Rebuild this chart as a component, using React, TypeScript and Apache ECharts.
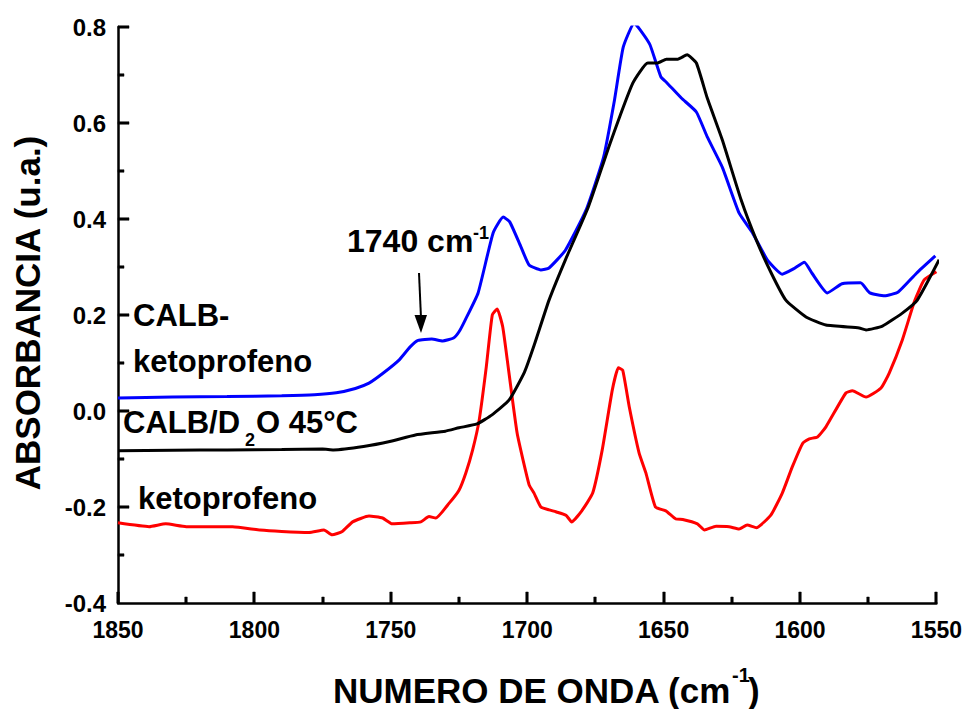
import React, { useEffect, useRef } from "react";
import * as echarts from "echarts";

// Wavenumber (cm-1) / absorbance pairs
const calbKetoprofeno: [number, number][] = [
  [1850, 0.027], [1830, 0.029], [1810, 0.03], [1790, 0.032], [1778, 0.034],
  [1770, 0.038], [1763, 0.047], [1758, 0.058], [1753, 0.078], [1747, 0.106], [1743, 0.133],
  [1740, 0.147], [1735, 0.15], [1731, 0.146], [1727, 0.152], [1725, 0.165],
  [1722.7, 0.19], [1718, 0.246], [1712.5, 0.371], [1708.8, 0.404], [1706.4, 0.394],
  [1702.3, 0.342], [1699.3, 0.304], [1695, 0.294], [1692, 0.298], [1686, 0.335],
  [1678.4, 0.419], [1672, 0.529], [1668, 0.648], [1664.8, 0.758], [1660.8, 0.808],
  [1658.6, 0.794], [1655, 0.763], [1651, 0.696], [1649, 0.685], [1643.5, 0.652],
  [1638, 0.623], [1634, 0.571], [1628.5, 0.508], [1622.3, 0.412], [1617.4, 0.371],
  [1612, 0.315], [1606.5, 0.285], [1602.4, 0.296], [1598.4, 0.31], [1595.6, 0.287],
  [1590, 0.246], [1584.6, 0.265], [1577.8, 0.267], [1574.4, 0.246], [1569, 0.24],
  [1564, 0.248], [1557.3, 0.287], [1550.4, 0.323],
];

const calbD2O: [number, number][] = [
  [1850, -0.083], [1830, -0.082], [1810, -0.081], [1790, -0.08], [1775, -0.079],
  [1771, -0.081], [1760, -0.074], [1750, -0.063], [1741, -0.05], [1730, -0.042],
  [1725, -0.035], [1718.4, -0.027], [1712.9, -0.008], [1706.6, 0.023], [1701, 0.081],
  [1697.4, 0.138], [1692, 0.231], [1686, 0.315], [1677.6, 0.425], [1669.6, 0.558],
  [1661.3, 0.683], [1655.8, 0.725], [1652.3, 0.725], [1649, 0.733], [1644.8, 0.733],
  [1641.4, 0.742], [1638, 0.725], [1634, 0.652], [1628.5, 0.565], [1621.6, 0.44],
  [1616, 0.356], [1610.6, 0.288], [1605.2, 0.231], [1597.8, 0.196], [1590.5, 0.179],
  [1578.3, 0.173], [1575.8, 0.169], [1569.8, 0.177], [1562.5, 0.204], [1557, 0.231],
  [1549, 0.315],
];

const ketoprofeno: [number, number][] = [
  [1850, -0.233], [1838.6, -0.241], [1832.5, -0.235], [1825, -0.241], [1808, -0.241],
  [1798, -0.248], [1790, -0.251], [1780, -0.253], [1774.5, -0.248], [1771.5, -0.258],
  [1767.8, -0.251], [1764, -0.231], [1758, -0.219], [1753, -0.223], [1749.5, -0.235],
  [1743, -0.233], [1739, -0.231], [1736, -0.22], [1733.5, -0.223], [1728.6, -0.192],
  [1725, -0.165], [1722.5, -0.129], [1720, -0.081], [1717.6, -0.019], [1715, 0.092],
  [1712.8, 0.2], [1711, 0.2125], [1709, 0.176], [1707.3, 0.106], [1703.7, -0.046],
  [1699.3, -0.154], [1697.5, -0.171], [1695, -0.2], [1692, -0.206], [1689.5, -0.21],
  [1685.8, -0.217], [1683.7, -0.231], [1680, -0.208], [1676, -0.171], [1672.5, -0.081],
  [1668.8, 0.044], [1666.6, 0.09], [1665, 0.085], [1662.6, 0.009], [1659, -0.087],
  [1656.5, -0.129], [1653, -0.2], [1649.2, -0.208], [1645.5, -0.225], [1643, -0.226],
  [1637.6, -0.235], [1635, -0.248], [1630.8, -0.24], [1626, -0.241], [1622.3, -0.246],
  [1619.4, -0.2375], [1616, -0.243], [1610.7, -0.217], [1606.5, -0.171], [1602.8, -0.116],
  [1599, -0.067], [1596.6, -0.058], [1593.6, -0.054], [1590.5, -0.033], [1583.2, 0.0375],
  [1580.8, 0.042], [1575.8, 0.029], [1570.3, 0.048], [1567.3, 0.079], [1562.5, 0.148],
  [1558, 0.229], [1554.5, 0.273], [1550, 0.29],
];

const xRange = { min: 1550, max: 1850, interval: 50 };
const yRange = { min: -0.4, max: 0.8, interval: 0.2 };

const FONT = '"Liberation Sans", Arial, Helvetica, sans-serif';

function txt(text: string, x: number, y: number, size: number, align = "left", rotation = 0) {
  return {
    type: "text",
    x,
    y,
    rotation,
    silent: true,
    z: 10,
    style: {
      text,
      fill: "#000",
      fontSize: size,
      fontWeight: "bold",
      fontFamily: FONT,
      align,
      verticalAlign: "middle",
      textAlign: align,
      textVerticalAlign: "middle",
    },
  };
}

function axisParts() {
  return {
    axisLine: { show: true, onZero: false, lineStyle: { color: "#000", width: 2.5 } },
    axisTick: { show: false },
    minorTick: { show: false },
    splitLine: { show: false },
    minorSplitLine: { show: false },
  };
}

export default function App() {
  const ref = useRef<HTMLDivElement>(null);
  useEffect(() => {
    if (!ref.current) return;
    const chart = echarts.init(ref.current, undefined, { renderer: "svg" });
    const lineCommon = {
      type: "line",
      showSymbol: false,
      symbol: "none",
      smooth: 0.15,
    };
    chart.setOption({
      animation: false,
      backgroundColor: "#fff",
      grid: { left: 118, right: 28, top: 27, bottom: 106, containLabel: false },
      xAxis: {
        type: "value",
        inverse: true,
        ...xRange,
        ...axisParts(),
        axisLabel: {
          show: true,
          margin: 15,
          color: "#000",
          fontSize: 23,
          fontWeight: "bold",
          fontFamily: FONT,
          formatter: (v: number) => String(v),
          showMinLabel: true,
          showMaxLabel: true,
        },
      },
      yAxis: {
        type: "value",
        ...yRange,
        ...axisParts(),
        axisLabel: {
          show: true,
          margin: 12,
          color: "#000",
          fontSize: 24,
          fontWeight: "bold",
          fontFamily: FONT,
          formatter: (v: number) => v.toFixed(1),
          showMinLabel: true,
          showMaxLabel: true,
        },
      },
      series: [
        {
          ...lineCommon,
          name: "CALB-ketoprofeno",
          data: calbKetoprofeno,
          lineStyle: { color: "#0000ff", width: 3 },
          z: 3,
        },
        {
          ...lineCommon,
          name: "CALB/D2O 45°C",
          data: calbD2O,
          lineStyle: { color: "#000000", width: 3 },
          z: 4,
        },
        {
          ...lineCommon,
          name: "ketoprofeno",
          data: ketoprofeno,
          lineStyle: { color: "#ff0000", width: 3 },
          z: 2,
        },
      ],
    });

    // Inward major/minor ticks placed through the chart's own scales
    const ticks: any[] = [];
    const xMinorStep = xRange.interval / 2;
    const nX = Math.round((xRange.max - xRange.min) / xMinorStep);
    for (let i = 0; i <= nX; i++) {
      const v = xRange.min + i * xMinorStep;
      const p = chart.convertToPixel({ gridIndex: 0 }, [v, yRange.min]) as number[];
      const len = i % 2 === 0 ? 11 : 6;
      ticks.push({
        type: "rect",
        silent: true,
        z: 20,
        shape: { x: Math.round(p[0]) - 1.25, y: Math.round(p[1]) - len, width: 2.5, height: len },
        style: { fill: "#000", stroke: "#000", lineWidth: 0.5 },
      });
    }
    const yMinorStep = yRange.interval / 2;
    const nY = Math.round((yRange.max - yRange.min) / yMinorStep);
    for (let i = 1; i <= nY; i++) {
      const v = yRange.min + i * yMinorStep;
      const p = chart.convertToPixel({ gridIndex: 0 }, [xRange.max, v]) as number[];
      const len = i % 2 === 0 ? 11 : 6;
      ticks.push({
        type: "rect",
        silent: true,
        z: 20,
        shape: { x: Math.round(p[0]), y: Math.round(p[1]) - 1.25, width: len, height: 2.5 },
        style: { fill: "#000", stroke: "#000", lineWidth: 0.5 },
      });
    }

    chart.setOption({
      graphic: [
        ...ticks,
        txt("ABSORBANCIA (u.a.)", 27, 313, 35, "center", Math.PI / 2),
        txt("NUMERO DE ONDA (cm", 333, 690, 35),
        txt("-1", 732, 675, 20),
        txt(")", 748, 690, 35),
        txt("1740 cm", 347, 241, 32),
        txt("-1", 473, 233, 18),
        txt("CALB-", 133, 315, 31),
        txt("ketoprofeno", 133, 361, 31),
        txt("CALB/D", 123, 422, 31),
        txt("2", 245, 440, 18),
        txt("O 45°C", 256, 422, 31),
        txt("ketoprofeno", 138, 498, 31),
        {
          type: "line",
          silent: true,
          z: 10,
          shape: { x1: 419, y1: 273, x2: 421, y2: 318 },
          style: { stroke: "#000", lineWidth: 2 },
        },
        {
          type: "polygon",
          silent: true,
          z: 10,
          shape: { points: [[414.5, 315], [427, 315], [421, 333]] },
          style: { fill: "#000" },
        },
      ],
    });
    return () => chart.dispose();
  }, []);
  return (
    <div
      ref={ref}
      style={{ position: "fixed", left: 0, top: 0, width: 965, height: 709, background: "#fff" }}
    />
  );
}
